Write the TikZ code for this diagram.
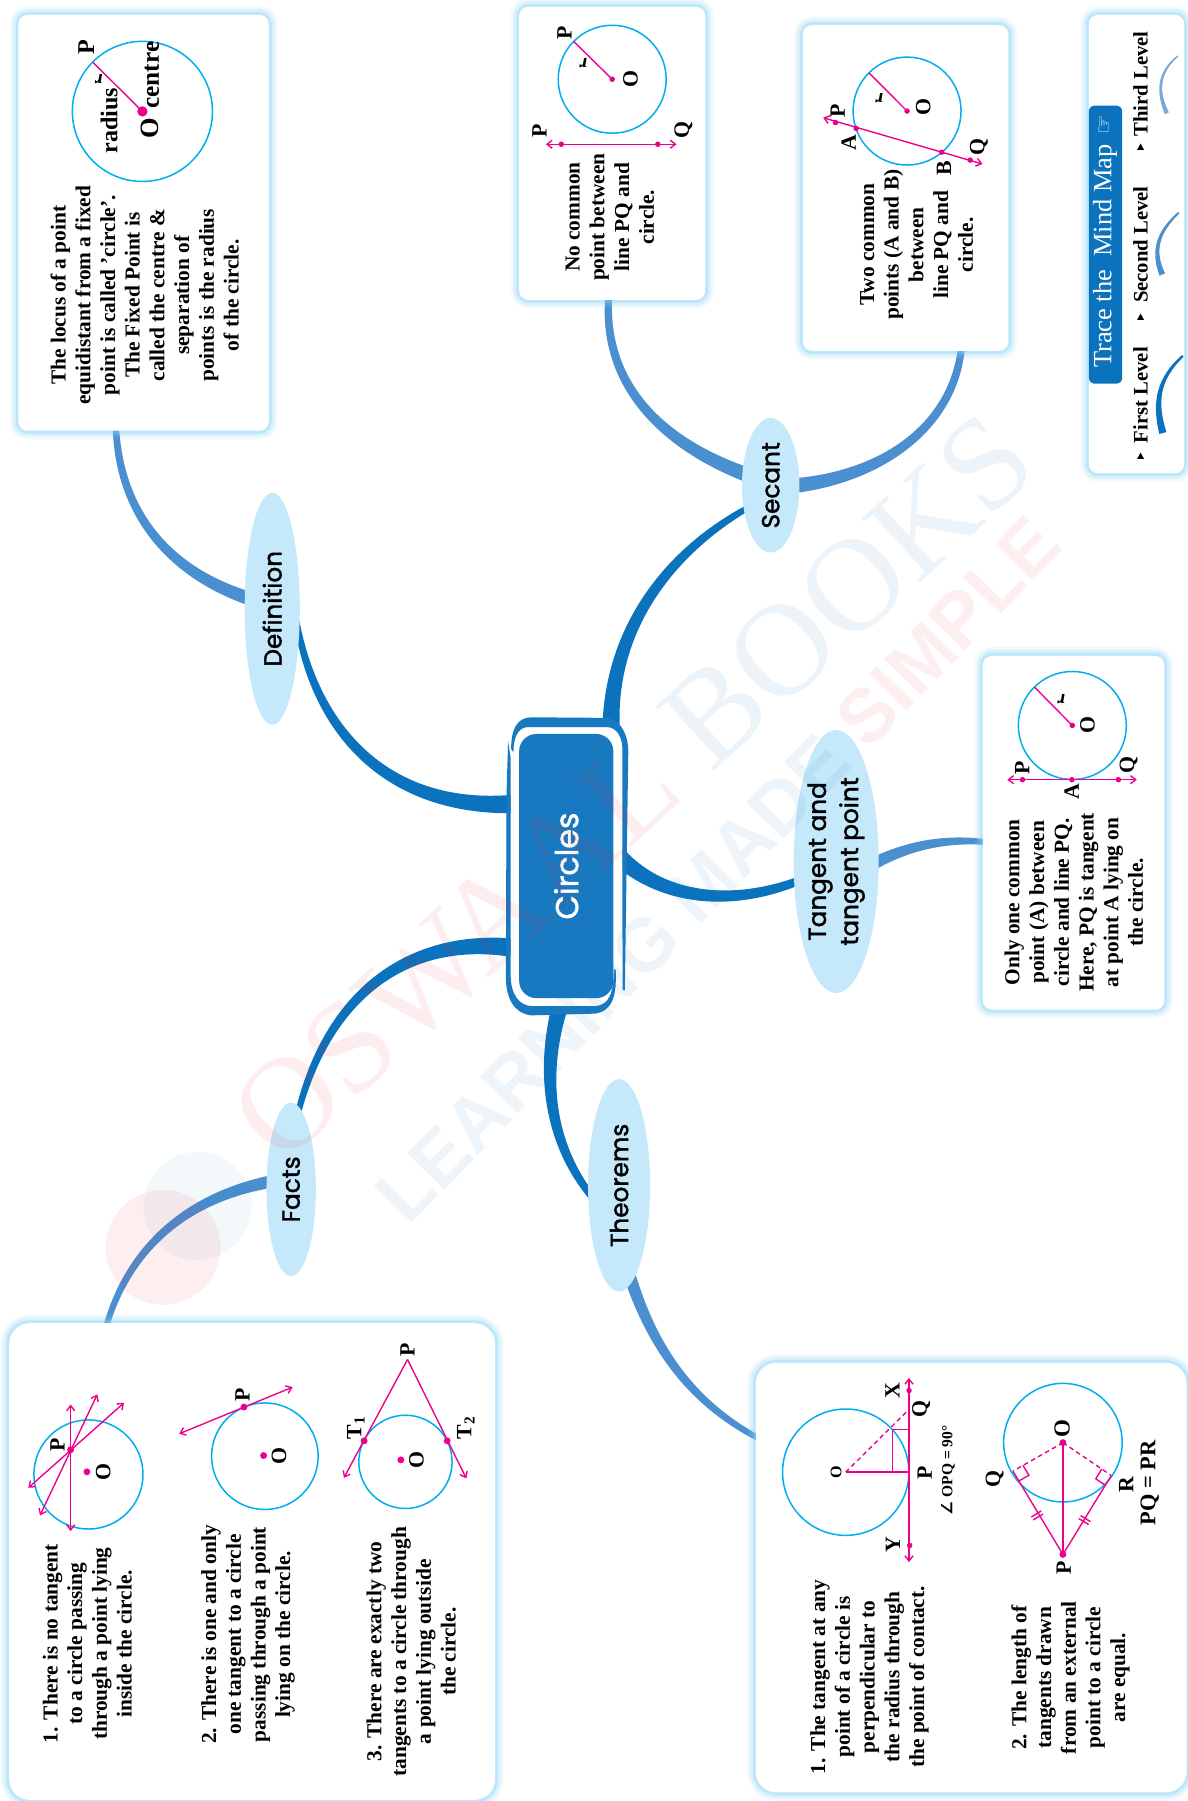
\documentclass[tikz,border=0pt]{standalone}
\usepackage{fontspec}
\setmainfont{Liberation Serif}
\newfontfamily\popf[FakeBold=1.6]{Poppins}
\newfontfamily\wmsans{Liberation Sans}
\newfontfamily\dejav{DejaVu Sans}
\usetikzlibrary{calc,shapes.geometric,arrows.meta,backgrounds}
\definecolor{lvlone}{HTML}{0B72BD}
\definecolor{lvltwo}{HTML}{4A8FCF}
\definecolor{lvlthree}{HTML}{7AA7DC}
\definecolor{corefill}{HTML}{1878C0}
\definecolor{bubble}{HTML}{C5E8FA}
\definecolor{glow}{HTML}{86D2F7}
\definecolor{ringc}{HTML}{00AEEF}
\definecolor{pinkc}{HTML}{EC008C}
\definecolor{wmred}{HTML}{E8212A}
\definecolor{wmblue}{HTML}{1878C0}
\newcount\labn
\newcommand{\lab}[3][]{\global\advance\labn by 1\relax
  \node[mlab,#1] (lab\the\labn) at (#2) {#3};}
\newcommand{\conn}[7]{%
  \pgfmathsetmacro\mAa{(2*#6+#7)/3}\pgfmathsetmacro\mAb{(#6+2*#7)/3}%
  \fill[#1] ($(#2)!#6pt!90:(#3)$)
    .. controls ($(#3)!\mAa pt!90:(#4)$) and ($(#4)!\mAb pt!90:(#5)$) ..
    ($(#5)!#7pt!-90:(#4)$) -- ($(#5)!#7pt!90:(#4)$)
    .. controls ($(#4)!\mAb pt!-90:(#5)$) and ($(#3)!\mAa pt!-90:(#4)$) ..
    ($(#2)!#6pt!-90:(#3)$) -- cycle;}
\newcommand{\dotp}[2][2.4]{\fill[pinkc] (#2) circle (#1);}
\tikzset{
  card/.style={rectangle,fill=white,rounded corners=#1,inner sep=0pt,
    preaction={draw=glow,line width=15pt,draw opacity=.12},
    preaction={draw=glow,line width=10pt,draw opacity=.2},
    preaction={draw=glow,line width=5pt,draw opacity=.35}},
  card/.default=8pt,
  bub/.style={ellipse,fill=bubble,inner sep=0pt,rotate=90,align=center,
    font=\popf\fontsize{21.5}{28}\selectfont,text=black},
  body/.style={rotate=90,align=center,inner sep=0pt,text=black,
    font=\bfseries\fontsize{18.6}{21.5}\selectfont},
  mlab/.style={rotate=90,inner sep=0pt,text=black,font=\bfseries\fontsize{19}{20}\selectfont},
  rlab/.style={mlab,font=\bfseries\itshape\fontsize{17}{17}\selectfont},
  ring/.style={draw=ringc,line width=1.3pt},
  pk/.style={draw=pinkc,line width=1.2pt},
  pkarr/.style={pk,{Straight Barb[length=4.5pt,width=7pt]}-{Straight Barb[length=4.5pt,width=7pt]}},
  pkone/.style={pk,-{Straight Barb[length=4.5pt,width=7pt]}},
}
\begin{document}
\begin{tikzpicture}[x=1pt,y=-1pt]
\useasboundingbox (0,0) rectangle (1034,1568);
\begin{scope}[on background layer]
\fill[white] (0,0) rectangle (1034,1568);
\end{scope}

% ---- cards
\node[card,minimum width=218pt,minimum height=362pt] (cardDef) at (125,194) {};
\node[card,minimum width=162pt,minimum height=255pt] (cardNone) at (533,133.5) {};
\node[card,minimum width=179pt,minimum height=283.5pt] (cardTwo) at (788.5,163.7) {};
\node[card,minimum width=83pt,minimum height=399pt] (cardLegend) at (989.5,212.5) {};
\node[card,minimum width=158pt,minimum height=308pt] (cardTan) at (934.7,725) {};
\node[card=18pt,minimum width=423pt,minimum height=415pt] (cardFacts) at (219.5,1359.5) {};
\node[card=18pt,minimum width=375pt,minimum height=374pt] (cardThm) at (845.5,1373.5) {};

% ---- central node
\fill[white,rounded corners=12pt] (444.6,633) rectangle (542,876);
\fill[corefill] (445,652) .. controls (445,635) and (450,625) .. (462,624.5)
  -- (530,625) .. controls (541,628) and (547,640) .. (547,655)
  -- (544,862) -- (542,862) -- (541.8,650) .. controls (541,640) and (536,633) .. (528,633)
  -- (460,633) .. controls (451,633) and (447,642) .. (447,655) -- cycle;
\fill[corefill] (442.4,645.5) -- (444.6,660) -- (444.6,850)
  .. controls (445,866) and (452,876) .. (464,876) -- (518,876)
  .. controls (530,875) and (534,866) .. (534.5,844) -- (536,844)
  .. controls (537,866) and (534,880) .. (518,882.5)
  -- (462,884) .. controls (448,882) and (440.4,870) .. (440.4,850) -- (441,690) -- cycle;
\node[rectangle,rotate=90,fill=corefill,rounded corners=15pt,minimum width=230pt,minimum height=82pt,
  inner sep=0pt,text=white,font=\popf\fontsize{27.5}{30}\selectfont] (core) at (493,754) {Circles};

% ---- first level bubbles
\node[bub,minimum width=202pt,minimum height=48pt] (def) at (237,530) {Definition};
\node[bub,minimum width=117pt,minimum height=50pt] (sec) at (671,422.5) {Secant};
\node[bub,minimum width=229pt,minimum height=74pt] (tan) at (728,750) {Tangent and\\tangent point};
\node[bub,minimum width=185pt,minimum height=54pt] (thm) at (539,1032) {Theorems};
\node[bub,minimum width=151pt,minimum height=43pt] (fac) at (253.5,1035.5) {Facts};

% ---- connector ends
\coordinate (coreDef) at (446,700);
\coordinate (coreSec) at (532,632);
\coordinate (coreTan) at (535,742);
\coordinate (coreFac) at (445,825);
\coordinate (coreThm) at (487,878);
\coordinate (defIn) at (258,540);
\coordinate (secIn) at (655,440);
\coordinate (tanIn) at (700,765);
\coordinate (facIn) at (258,975);
\coordinate (thmIn) at (518,1045);
\coordinate (defOut) at (220,522);
\coordinate (secOutA) at (655,415);
\coordinate (secOutB) at (690,423);
\coordinate (tanOut) at (755,755);
\coordinate (thmOut) at (545,1100);
\coordinate (facOut) at (240,1028);
\coordinate (cardDefIn) at (101,374);
\coordinate (cardNoneIn) at (530,259);
\coordinate (cardTwoIn) at (837,303);
\coordinate (cardTanIn) at (857,733);
\coordinate (cardThmIn) at (660,1252);
\coordinate (cardFacIn) at (93,1153);

\begin{scope}[on background layer]
\conn{lvlone}{coreDef}{340,705}{275,640}{defIn}{8}{2.5}
\conn{lvlone}{coreSec}{532,540}{590,475}{secIn}{7.5}{2.5}
\conn{lvlone}{coreTan}{575,785}{640,790}{tanIn}{8}{3.5}
\conn{lvlone}{coreFac}{360,815}{285,860}{facIn}{8}{2.5}
\conn{lvlone}{coreThm}{470,940}{480,1000}{thmIn}{7}{3}
\conn{lvltwo}{defOut}{150,500}{105,450}{cardDefIn}{6}{2.8}
\conn{lvltwo}{secOutA}{570,385}{525,330}{cardNoneIn}{6.5}{3}
\conn{lvltwo}{secOutB}{770,415}{830,370}{cardTwoIn}{6.5}{3}
\conn{lvltwo}{tanOut}{790,735}{825,730}{cardTanIn}{5.5}{2.5}
\conn{lvltwo}{thmOut}{565,1170}{600,1220}{cardThmIn}{5.5}{2.5}
\conn{lvltwo}{facOut}{170,1040}{115,1080}{cardFacIn}{5.5}{2.5}
\end{scope}

% ---- Definition card
\node[body] (tDef) at (126,257) {The locus of a point\\equidistant from a fixed\\point is called 'circle'.\\The Fixed Point is\\called the centre \&\\separation of\\points is the radius\\of the circle.};
\draw[ring] (124,97) circle (61);
\draw[pk] (124,97) -- (81,54.4);
\dotp[4.5]{124,97}
\lab[font=\bfseries\fontsize{21}{22}\selectfont]{75,41}{P}
\lab[rlab]{86,69}{r}
\lab[font=\bfseries\fontsize{21}{22}\selectfont]{95,105}{radius}
\lab[font=\bfseries\fontsize{23}{24}\selectfont]{130.7,111.8}{O}
\lab[font=\bfseries\fontsize{22}{24}\selectfont]{132.3,65.4}{centre}

% ---- No common
\node[body] (tNone) at (531,189) {No common\\point between\\line PQ and\\circle.};
\draw[ring] (533,69) circle (47);
\draw[pk] (533,69) -- (499.4,36);
\dotp{533,69}
\lab{491.4,28.2}{P}
\lab[rlab]{507.8,55}{r}
\lab{549,69}{O}
\draw[pkarr] (475.3,125.6) -- (589,125.6);
\dotp{488.7,125.6}\dotp{572.7,125.6}
\lab{469.6,113.6}{P}
\lab{594.9,113.6}{Q}

% ---- Two common
\node[body] (tTwo) at (798,213) {Two common\\points (A and B)\\between\\line PQ and\\circle.};
\draw[ring] (789.7,96.7) circle (47);
\draw[pk] (789.7,96.7) -- (756.8,63.7);
\dotp{789.7,96.7}
\lab[rlab]{765.6,85.3}{r}
\lab{803.8,93.6}{O}
\draw[pkarr] (716.7,102.5) -- (855.4,142.8);
\dotp{727.4,106.7}\dotp{745.4,111.8}\dotp{819.9,132.5}\dotp{844.7,139.4}
\lab{729.3,96.4}{P}
\lab{738.9,123.9}{A}
\lab{821.8,146.2}{B}
\lab{852.3,128}{Q}

% ---- Legend
\node[rectangle,rotate=90,fill=lvlone,rounded corners=5pt,minimum width=242pt,minimum height=29pt,inner sep=0pt] (legHead) at (962.5,213) {};
\node[rotate=90,inner sep=0pt,text=white,font=\fontsize{23}{25}\selectfont] (legTitle) at (962,223) {Trace the\ \ Mind Map};
\node[rotate=90,inner sep=0pt,text=white,font=\dejav\fontsize{19}{21}\selectfont] (legHand) at (962,109) {☞};
\node[mlab,font=\bfseries\fontsize{18}{20}\selectfont] (legA) at (993,344) {First Level};
\node[mlab,font=\bfseries\fontsize{18}{20}\selectfont] (legB) at (993,213) {Second Level};
\node[mlab,font=\bfseries\fontsize{18}{20}\selectfont] (legC) at (993,73) {Third Level};
\fill[black] (990,399.5) -- (996,399.5) -- (993,394) -- cycle;
\fill[black] (990,278.5) -- (996,278.5) -- (993,273) -- cycle;
\fill[black] (990,130.5) -- (996,130.5) -- (993,125) -- cycle;
\coordinate (ma) at (1012.4,377); \coordinate (mb) at (1029.8,309.8);
\coordinate (na) at (1011.9,239); \coordinate (nb) at (1026.4,185);
\coordinate (oa) at (1015.9,98.6); \coordinate (ob) at (1025.5,48.7);
\conn{lvlone}{ma}{1005,350}{1008,330}{mb}{3.2}{1}
\conn{lvltwo}{na}{1003,218}{1008,202}{nb}{2.6}{0.8}
\conn{lvlthree}{oa}{1005,75}{1012,60}{ob}{1.9}{0.6}

% ---- Tangent card
\node[body] (tTan) at (935,785.6) {Only one common\\point (A) between\\circle and line PQ.\\Here, PQ is tangent\\at point A lying on\\the circle.};
\draw[ring] (933.6,631.6) circle (47);
\draw[pk] (933.6,631.6) -- (900.8,598.4);
\dotp{933.6,631.6}
\lab[rlab]{924,608.4}{r}
\lab{946.7,631.6}{O}
\draw[pkarr] (877,678.8) -- (989.7,678.8);
\dotp{890.2,678.8}\dotp{933.2,678.8}\dotp{973.7,678.8}
\lab{890,668.4}{P}
\lab{933,689.6}{A}
\lab{982.7,665.6}{Q}

% ---- Facts card
\node[body] (tF1) at (76,1431) {1. There is no tangent\\to a circle passing\\through a point lying\\inside the circle.};
\node[body] (tF2) at (216,1423) {2. There is one and only\\one tangent to a circle\\passing through a point\\lying on the circle.};
\node[body] (tF3) at (358,1438) {3. There are exactly two\\tangents to a circle through\\a point lying outside\\the circle.};
\draw[ring] (77,1283.7) circle (47.5);
\dotp[3]{75.7,1281.4}
\dotp[3]{61.5,1262.2}
\draw[pkarr] (61.5,1222.8) -- (61.5,1333);
\draw[pkarr] (84.7,1214) -- (34.8,1319.4);
\draw[pkarr] (108,1221.3) -- (24.7,1295.3);
\lab{50,1258}{P}
\lab{90,1281.4}{O}
\draw[ring] (230.6,1267.8) circle (46.4);
\dotp[3]{229.5,1267.2}
\dotp[3]{212.4,1225}
\draw[pkarr] (254.7,1207.7) -- (156,1248.3);
\lab{243,1267.2}{O}
\lab{211.2,1214}{P}
\draw[ring] (353,1272.7) circle (40.6);
\dotp[3]{349,1271}
\draw[pkone] (354.8,1183.6) -- (299.4,1286.6);
\draw[pkone] (354.8,1183.6) -- (406,1287.2);
\dotp[3]{317,1254.4}\dotp[3]{389.3,1254.4}
\lab{362.6,1271}{O}
\lab{354.8,1175.5}{P}
\lab{309.8,1243}{T$_{\mathbf 1}$}
\lab{405.6,1243}{T$_{\mathbf 2}$}

% ---- Theorems card
\node[body] (tT1) at (757,1460) {1. The tangent at any\\point of a circle is\\perpendicular to\\the radius through\\the point of contact.};
\node[body] (tT2) at (932,1460.6) {2. The length of\\tangents drawn\\from an external\\point to a circle\\are equal.};
\draw[ring] (736.3,1281.7) circle (55);
\draw[pkarr] (791.4,1199.6) -- (791.4,1360);
\dotp{791.4,1210.6}\dotp{792,1345.5}
\draw[pk] (736.3,1281.7) -- (791.4,1281.7);
\draw[pk,dash pattern=on 4pt off 3pt] (736.3,1281.7) -- (791.4,1227);
\draw[pk] (776.9,1281.7) -- (776.9,1244.5) -- (791.4,1244.5);
\lab[font=\bfseries\fontsize{14}{15}\selectfont]{728,1281.7}{O}
\lab{776.9,1210.6}{X}
\lab{777.5,1344.6}{Y}
\lab{802,1227}{Q}
\lab{805,1282.2}{P}
\lab[font=\bfseries\fontsize{13.5}{14}\selectfont]{825.3,1280}{{\dejav∠} OPQ = 90°}
\draw[ring] (925.4,1256) circle (51.6);
\coordinate (tO) at (925.4,1256); \coordinate (tP) at (925.4,1353.3);
\coordinate (tQ) at (881.9,1280.8); \coordinate (tR) at (967.5,1284.6);
\draw[pk] (tO) -- (tP);
\draw[pk] (tP) -- (tQ);
\draw[pk] (tP) -- (tR);
\draw[pk,dash pattern=on 4pt off 3pt] (tO) -- (tQ);
\draw[pk,dash pattern=on 4pt off 3pt] (tO) -- (tR);
\draw[pk] (890.6,1275.8) -- (895.8,1284.4) -- (887,1289.4);
\draw[pk] (959.2,1279) -- (954,1287.5) -- (962.3,1293.1);
\draw[pk] (897.9,1320.7) -- (906.5,1315.5);
\draw[pk] (899.5,1323.3) -- (908.1,1318.1);
\draw[pk] (939.2,1322.1) -- (947.8,1327.3);
\draw[pk] (940.8,1319.5) -- (949.4,1324.7);
\dotp[3]{925.4,1256}\dotp[3]{925.4,1353.3}
\lab[font=\bfseries\fontsize{20}{22}\selectfont]{924.8,1244}{O}
\lab{926,1365}{P}
\lab{866,1288}{Q}
\lab{980.5,1292.4}{R}
\lab[font=\bfseries\fontsize{19.5}{22}\selectfont]{1001,1291}{PQ = PR}

% ---- watermark
\fill[wmblue,opacity=.05] (172,1050) circle (47);
\fill[wmred,opacity=.07] (142,1086) circle (50);
\node[rotate=42.5,inner sep=0pt,text opacity=.08,font=\fontsize{115}{117}\selectfont] (wmA) at (551,686)
  {\textcolor{wmred}{OSWAAL}\ \textcolor{wmblue}{BOOKS}};
\node[rotate=46,inner sep=0pt,text opacity=.07,font=\wmsans\bfseries\fontsize{66}{70}\selectfont] (wmB) at (625,757)
  {\textcolor{wmblue}{LEARNING MADE}\ \textcolor{wmred}{SIMPLE}};
\end{tikzpicture}
\end{document}
